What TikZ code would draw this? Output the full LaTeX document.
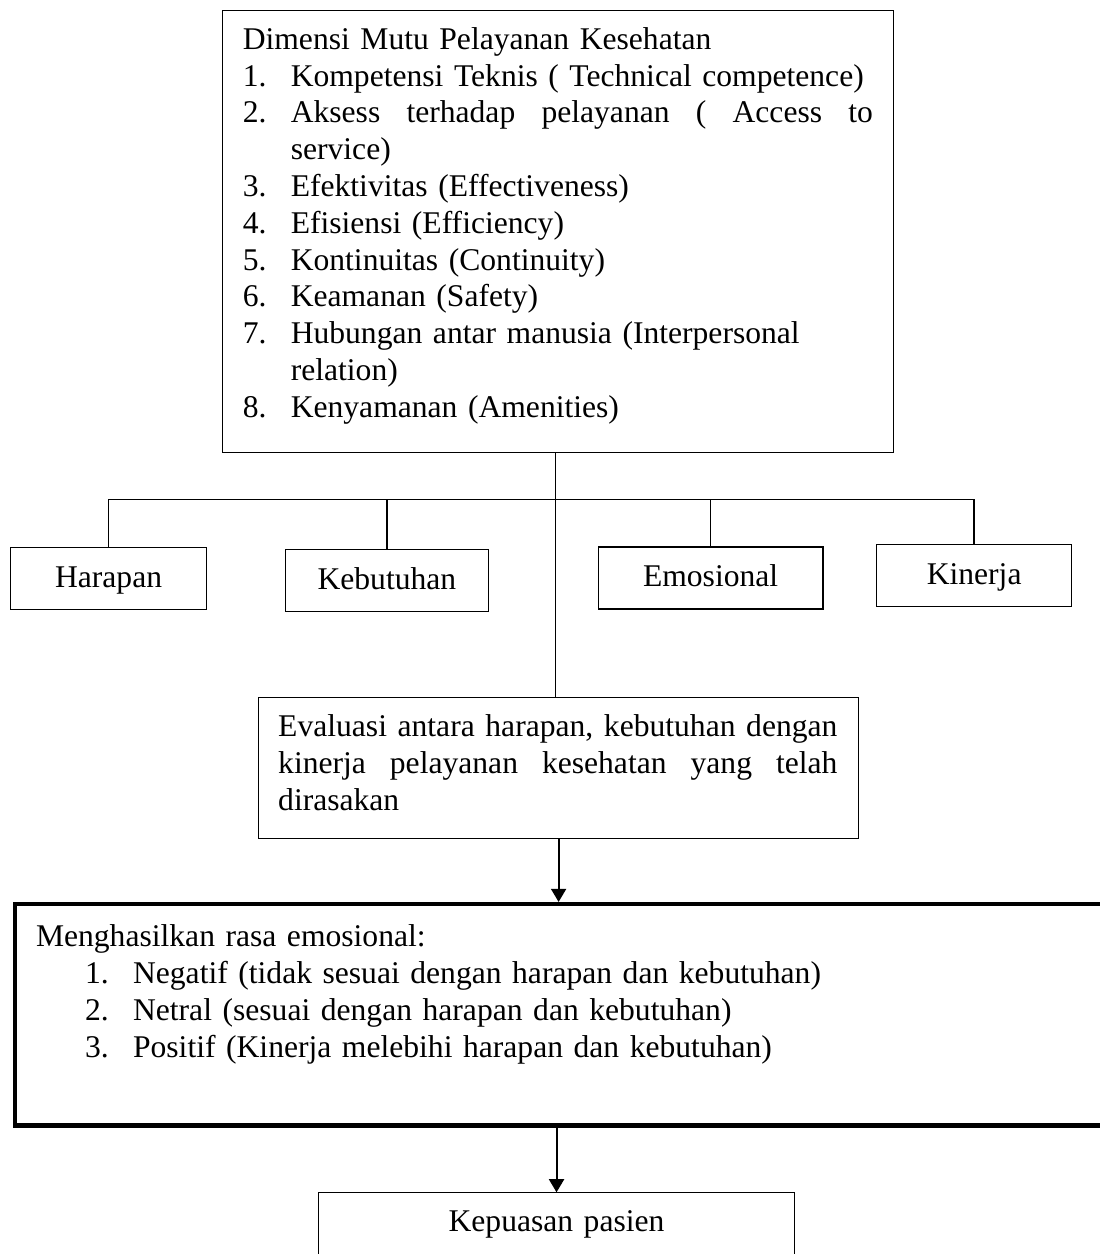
\documentclass[tikz,border=0pt]{standalone}
\usepackage{fontspec}
\setmainfont{Liberation Serif}
\usetikzlibrary{arrows.meta}

\tikzset{
  box/.style={draw, inner sep=0pt, outer sep=0pt, anchor=north west, text height=14.9pt, text depth=8.35pt},
  listbox/.style={draw, outer sep=0pt, inner ysep=0pt, align=left, anchor=north west},
  link/.style={line width=0.5pt},
  flow/.style={line width=0.75pt, -{Triangle[length=4.9pt,width=5.6pt]}}
}
\newcommand{\num}[1]{\makebox[18pt][l]{#1}}
\newcommand{\topstrut}[1]{\rule{0pt}{#1}}
\newcommand{\botstrut}[1]{\rule[-#1]{0pt}{#1}}

\begin{document}
\begin{tikzpicture}[x=0.375pt,y=-0.375pt,font=\fontsize{11.85pt}{13.8pt}\selectfont]
  \useasboundingbox (0,0) rectangle (1099,1254);

  % Dimensions of service quality
  \node[listbox,text width=236.5pt,inner xsep=7.5pt] (dimensi) at (222.8,10.5) {\topstrut{14.55pt}Dimensi Mutu Pelayanan Kesehatan\\
    \num{1.}Kompetensi Teknis ( Technical competence)\\
    \num{2.}\makebox[218.3pt][l]{Aksess \hfill terhadap \hfill pelayanan \hfill ( \hfill Access \hfill to}\\
    \hspace*{18pt}service)\\
    \num{3.}Efektivitas (Effectiveness)\\
    \num{4.}Efisiensi (Efficiency)\\
    \num{5.}Kontinuitas (Continuity)\\
    \num{6.}Keamanan (Safety)\\
    \num{7.}Hubungan antar manusia (Interpersonal\\
    \hspace*{18pt}relation)\\
    \num{8.}Kenyamanan (Amenities)\botstrut{13.2pt}};

  % Four factors
  \node[box,minimum width=73.4pt] (harapan) at (10.7,547.7) {Harapan};
  \node[box,minimum width=75.9pt] (kebutuhan) at (285.7,549.3) {Kebutuhan};
  \node[box,minimum width=84.3pt] (emosional) at (598.2,547) {Emosional};
  \node[box,minimum width=73pt] (kinerja) at (876.8,544.7) {Kinerja};

  % Evaluation
  \node[listbox,text width=210.3pt,inner xsep=7.35pt] (evaluasi) at (258.6,697.7) {\topstrut{14.65pt}\makebox[209.7pt][l]{Evaluasi \hfill antara \hfill harapan, \hfill kebutuhan \hfill dengan}\\
    \makebox[209.7pt][l]{kinerja \hfill pelayanan \hfill kesehatan \hfill yang \hfill telah}\\
    dirasakan\botstrut{10.65pt}};

  % Emotional result
  \node[listbox,line width=1.7pt,text width=394.8pt,inner xsep=7.9pt] (hasil) at (14.95,904.2) {\topstrut{15.9pt}Menghasilkan rasa emosional:\\
    \hspace*{18.4pt}\num{1.}Negatif (tidak sesuai dengan harapan dan kebutuhan)\\
    \hspace*{18.4pt}\num{2.}Netral (sesuai dengan harapan dan kebutuhan)\\
    \hspace*{18.4pt}\num{3.}Positif (Kinerja melebihi harapan dan kebutuhan)\botstrut{25.65pt}};

  % Satisfaction
  \node[draw,outer sep=0pt,inner sep=0pt,anchor=north west,align=center,text width=178.3pt,text height=14.8pt,text depth=16.2pt] (kepuasan) at (318.8,1192.3) {Kepuasan pasien};

  % Stem and branches
  \coordinate (spine) at (555.3,499.3);
  \draw[link] (dimensi.south -| spine) -- (evaluasi.north -| spine);
  \draw[link] (harapan.north |- spine) -- (kinerja.north |- spine);
  \foreach \b in {harapan,kebutuhan,emosional,kinerja}
    \draw[link] (\b.north |- spine) -- (\b.north);

  % Arrows
  \draw[flow,shorten >=0.85pt] (evaluasi.south) -- (evaluasi.south |- hasil.north);
  \draw[flow] (kepuasan.north |- hasil.south) -- (kepuasan.north);
\end{tikzpicture}
\end{document}
